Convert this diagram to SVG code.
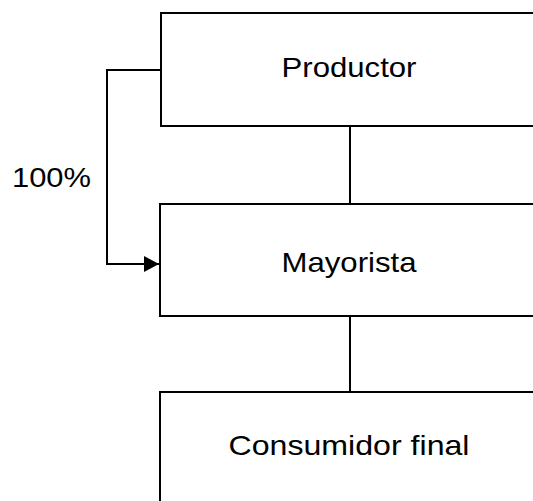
<svg xmlns="http://www.w3.org/2000/svg" width="533" height="501" viewBox="0 0 533 501">
<style>
.box{fill:#fff;stroke:#000;stroke-width:2}
.lbl{font-family:"Liberation Sans",Arial,sans-serif;font-size:28px;fill:#000;text-anchor:middle}
.con{fill:none;stroke:#000;stroke-width:2}
</style>
<defs>
<marker id="arr" markerWidth="16" markerHeight="16" refX="15" refY="8" orient="auto" markerUnits="userSpaceOnUse">
<path d="M0,0 L15,8 L0,16 Z" fill="#000"/>
</marker>
</defs>
<rect width="533" height="501" fill="#fff"/>
<g id="connectors">
<line class="con" x1="350" y1="126" x2="350" y2="204"/>
<line class="con" x1="350" y1="316" x2="350" y2="392"/>
<polyline class="con" points="161,70 107,70 107,264 159,264" marker-end="url(#arr)"/>
<text class="lbl" x="51.5" y="187" textLength="79" lengthAdjust="spacingAndGlyphs">100%</text>
</g>
<g id="productor">
<rect class="box" x="161" y="13" width="380" height="113"/>
<text class="lbl" x="349" y="77" textLength="135" lengthAdjust="spacingAndGlyphs">Productor</text>
</g>
<g id="mayorista">
<rect class="box" x="160" y="204" width="381" height="112"/>
<text class="lbl" x="349" y="272" textLength="135" lengthAdjust="spacingAndGlyphs">Mayorista</text>
</g>
<g id="consumidor">
<rect class="box" x="160" y="392" width="381" height="130"/>
<text class="lbl" x="349" y="455" textLength="241" lengthAdjust="spacingAndGlyphs">Consumidor final</text>
</g>
</svg>
